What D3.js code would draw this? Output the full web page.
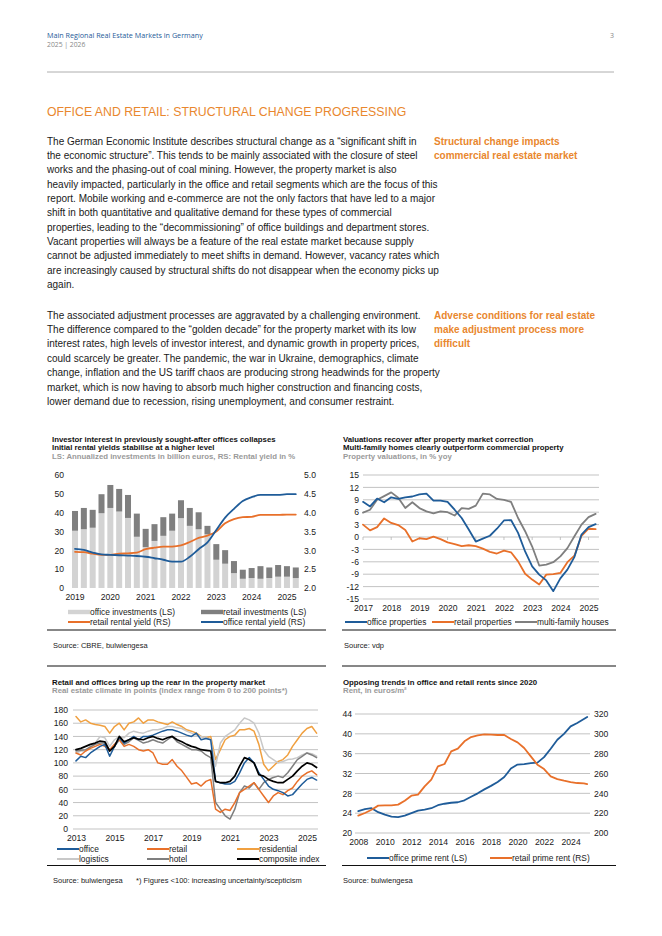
<!DOCTYPE html>
<html>
<head>
<meta charset="utf-8">
<script src="https://cdn.jsdelivr.net/npm/d3@7"></script>
<style>
  body { margin: 0; background: #fff; }
  svg { display: block; font-family: "Liberation Sans", Arial, sans-serif; }
</style>
</head>
<body>
<svg id="page" width="662" height="936"></svg>
<script>
// ---------- data ----------
// chart 1: quarterly investments (bn EUR) and rental yields (%)
var c1Quarters = ["2019Q1","2019Q2","2019Q3","2019Q4","2020Q1","2020Q2","2020Q3","2020Q4",
  "2021Q1","2021Q2","2021Q3","2021Q4","2022Q1","2022Q2","2022Q3","2022Q4",
  "2023Q1","2023Q2","2023Q3","2023Q4","2024Q1","2024Q2","2024Q3","2024Q4","2025Q1","2025Q2"];
var c1OfficeInv = [30.4,31.2,32,39.7,42.5,40.6,37.2,27.2,21.7,25,27.7,30.4,37.1,33,31.2,28.5,15,12.9,7.9,4.9,5.3,4.9,5.3,6,6,5.3];
var c1RetailInv = [10.5,11.3,9.5,10.1,12.2,12,12.2,12.3,9.7,8.9,9.9,9.1,9.5,9.5,9,4.5,8.3,7.2,6.4,4.8,5.3,6.7,5.6,6.2,5.6,5.6];
var c1OfficeYield = [3.04,3.01,2.94,2.89,2.88,2.87,2.86,2.85,2.83,2.79,2.75,2.70,2.70,2.83,3.03,3.21,3.54,3.87,4.10,4.31,4.41,4.47,4.47,4.47,4.49,4.49];
var c1RetailYield = [2.96,2.95,2.91,2.88,2.88,2.91,2.92,2.94,3.03,3.07,3.10,3.10,3.13,3.22,3.33,3.39,3.50,3.72,3.83,3.88,3.89,3.94,3.94,3.94,3.95,3.95];

// chart 2: property valuations, % yoy, quarterly
var c2Dates = [2017,2017.25,2017.5,2017.75,2018,2018.25,2018.5,2018.75,2019,2019.25,2019.5,2019.75,
  2020,2020.25,2020.5,2020.75,2021,2021.25,2021.5,2021.75,2022,2022.25,2022.5,2022.75,
  2023,2023.25,2023.5,2023.75,2024,2024.25,2024.5,2024.75,2025,2025.25];
var c2Office = [8.5,7.4,9.3,8.4,9.6,9.2,9.6,9.8,10.3,10.5,8.8,8.8,8.5,6.6,4.6,1.8,-1.1,-0.4,0.3,2.0,4.0,4.1,1.0,-3.5,-7.1,-9.1,-10.5,-13.1,-10.0,-7.9,-4.8,0.6,2.4,3.1];
var c2Retail = [3.0,1.6,2.4,4.5,3.4,2.9,1.7,-1.1,-0.3,-0.5,0.1,-0.5,-1.3,-1.7,-2.2,-2.0,-2.2,-2.8,-3.6,-4.0,-3.3,-3.7,-5.9,-8.9,-10.3,-11.5,-9.1,-9.0,-8.7,-6.1,-4.5,0.3,2.0,1.9];
var c2Multi = [5.9,6.6,9.0,9.9,10.8,9.5,7.0,8.4,7.0,6.2,5.7,6.2,6.0,5.2,7.0,6.8,7.6,10.5,10.3,9.2,9.0,8.5,4.6,1.4,-2.3,-6.9,-6.7,-6.1,-4.7,-2.7,0.2,3.0,4.8,5.6];

// chart 3: real estate climate, points, quarterly
var c3Dates = [2013,2013.25,2013.5,2013.75,2014,2014.25,2014.5,2014.75,2015,2015.25,2015.5,2015.75,
  2016,2016.25,2016.5,2016.75,2017,2017.25,2017.5,2017.75,2018,2018.25,2018.5,2018.75,
  2019,2019.25,2019.5,2019.75,2020,2020.25,2020.5,2020.75,2021,2021.25,2021.5,2021.75,
  2022,2022.25,2022.5,2022.75,2023,2023.25,2023.5,2023.75,2024,2024.25,2024.5,2024.75,2025,2025.25,2025.5];
var c3Office = [103,110,108,115,120,125,128,110,125,138,130,135,140,135,140,140,142,145,148,150,150,148,145,142,140,145,135,137,135,72,70,68,68,72,85,100,108,100,85,75,65,60,58,55,50,52,60,68,75,78,74];
var c3Retail = [115,112,118,122,125,128,125,120,128,135,125,128,125,120,118,120,115,100,98,98,105,95,88,78,68,70,65,72,75,30,25,30,28,40,55,60,65,70,60,50,40,50,55,52,58,62,72,80,85,88,82];
var c3Residential = [170,162,165,160,158,157,155,145,155,160,150,160,162,168,160,165,165,162,160,158,162,158,155,150,148,145,140,138,140,105,120,135,140,142,150,150,152,148,128,98,88,95,102,105,112,125,135,145,152,155,145];
var c3Logistics = [115,118,118,125,130,140,138,125,135,140,138,145,148,146,145,148,150,150,152,155,155,153,152,148,145,142,140,138,135,95,130,140,145,150,160,168,165,160,145,120,110,105,100,102,105,106,108,112,115,114,110];
var c3Hotel = [118,119,120,124,128,130,130,118,125,135,128,132,138,134,130,132,135,132,130,135,140,132,128,124,120,120,118,112,108,40,30,20,15,30,55,65,62,70,60,70,75,78,80,78,85,95,105,110,115,112,108];
var c3Composite = [120,122,125,128,130,133,132,118,125,140,132,135,138,136,135,138,140,137,135,138,140,135,132,128,125,123,120,119,118,72,70,70,72,80,95,108,105,100,82,80,75,72,70,70,75,80,88,95,100,98,93];

// chart 4: prime rents, half-yearly
var c4Dates = [2008,2008.5,2009,2009.5,2010,2010.5,2011,2011.5,2012,2012.5,2013,2013.5,2014,2014.5,2015,2015.5,
  2016,2016.5,2017,2017.5,2018,2018.5,2019,2019.5,2020,2020.5,2021,2021.5,2022,2022.5,2023,2023.5,2024,2024.5,2025,2025.25];
var c4Office = [24.4,24.8,25.0,24.2,23.7,23.3,23.2,23.5,24.0,24.5,24.7,25.0,25.6,25.9,26.1,26.2,26.6,27.3,28.0,28.8,29.5,30.3,31.3,33.0,33.8,33.9,34.1,34.2,35.3,37.0,38.8,40.0,41.5,42.2,43.0,43.4];
var c4Retail = [217.5,220.2,223.5,227.6,227.9,227.9,228.6,232.6,237.6,238.7,247,253.8,267.2,269.6,282.3,285,292.4,296.8,298.5,299.5,299.2,298.8,298.8,294.8,291.4,285.7,277.3,268.9,264.5,257.1,254.4,252.8,251.4,250.4,250.1,249.4];

// ---------- page ----------
var BLUE = "#1f5c99", ORANGE = "#e8702a", LORANGE = "#f0a040",
    LGREY = "#d3d3d3", DGREY = "#7f7f7f", GRID = "#b4b4b4", TXT = "#1a1a1a";

var svg = d3.select("#page");
svg.append("rect").attr("width", 662).attr("height", 936).attr("fill", "#fff");

function text(x, y, s, size, opts) {
  opts = opts || {};
  return svg.append("text")
    .attr("x", x).attr("y", y)
    .attr("font-size", size)
    .attr("font-weight", opts.bold ? "bold" : null)
    .attr("fill", opts.fill || TXT)
    .attr("text-anchor", opts.anchor || "start")
    .attr("font-family", opts.family || null)
    .text(s);
}

function hline(x1, x2, y, color, w) {
  svg.append("line").attr("x1", x1).attr("x2", x2).attr("y1", y).attr("y2", y)
    .attr("stroke", color).attr("stroke-width", w);
}

// plain hyphen for negatives, like the original
var plain = function(d) { return String(d); };

// header
text(47, 37.5, "Main Regional Real Estate Markets in Germany", 7.2, {fill: BLUE, family: "Open Sans"});
text(47, 46.5, "2025 | 2026", 6.8, {fill: "#888", family: "Open Sans"});
text(614, 37.5, "3", 7, {fill: "#888", anchor: "end", family: "Open Sans"});
hline(47, 614, 72, "#999", 0.8);

text(47, 115.5, "OFFICE AND RETAIL: STRUCTURAL CHANGE PROGRESSING", 12.3, {fill: "#e9872e"});

var para1 = [
  "The German Economic Institute describes structural change as a \u201csignificant shift in",
  "the economic structure\u201d. This tends to be mainly associated with the closure of steel",
  "works and the phasing-out of coal mining. However, the property market is also",
  "heavily impacted, particularly in the office and retail segments which are the focus of this",
  "report. Mobile working and e-commerce are not the only factors that have led to a major",
  "shift in both quantitative and qualitative demand for these types of commercial",
  "properties, leading to the \u201cdecommissioning\u201d of office buildings and department stores.",
  "Vacant properties will always be a feature of the real estate market because supply",
  "cannot be adjusted immediately to meet shifts in demand. However, vacancy rates which",
  "are increasingly caused by structural shifts do not disappear when the economy picks up",
  "again."
];
var para2 = [
  "The associated adjustment processes are aggravated by a challenging environment.",
  "The difference compared to the \u201cgolden decade\u201d for the property market with its low",
  "interest rates, high levels of investor interest, and dynamic growth in property prices,",
  "could scarcely be greater. The pandemic, the war in Ukraine, demographics, climate",
  "change, inflation and the US tariff chaos are producing strong headwinds for the property",
  "market, which is now having to absorb much higher construction and financing costs,",
  "lower demand due to recession, rising unemployment, and consumer restraint."
];
para1.forEach(function(s, i) { text(47, 144.5 + i * 14.35, s, 10); });
para2.forEach(function(s, i) { text(47, 318.5 + i * 14.4, s, 10); });

var side1 = ["Structural change impacts", "commercial real estate market"];
var side2 = ["Adverse conditions for real estate", "make adjustment process more", "difficult"];
side1.forEach(function(s, i) { text(434, 144.5 + i * 14.35, s, 10, {bold: true, fill: "#e9872e"}); });
side2.forEach(function(s, i) { text(434, 318.5 + i * 14.4, s, 10, {bold: true, fill: "#e9872e"}); });

// chart helpers
function titles(x, y, lines, greyFrom) {
  lines.forEach(function(s, i) {
    text(x, y + i * 8.7, s, 7.8, {bold: true, fill: i >= greyFrom ? "#9a9a9a" : "#111"});
  });
}
function styleAxis(g, size) {
  g.select(".domain").remove();
  g.selectAll(".tick line").remove();
  g.selectAll("text").attr("font-size", size).attr("fill", TXT)
    .attr("font-family", "Liberation Sans, Arial, sans-serif");
}
function legendLine(x, y, color, label, w) {
  svg.append("line").attr("x1", x).attr("x2", x + 22).attr("y1", y).attr("y2", y)
    .attr("stroke", color).attr("stroke-width", w || 2);
  text(x + 22, y + 3, label, 8.4);
}
function legendRect(x, y, color, label) {
  svg.append("rect").attr("x", x).attr("y", y - 2.2).attr("width", 22).attr("height", 4.4).attr("fill", color);
  text(x + 22, y + 3, label, 8.4);
}
function gridLines(y, ticks, x1, x2) {
  svg.append("g").selectAll("line").data(ticks).join("line")
    .attr("x1", x1).attr("x2", x2)
    .attr("y1", function(d) { return y(d); }).attr("y2", function(d) { return y(d); })
    .attr("stroke", GRID).attr("stroke-width", 0.8);
}
function drawLine(xs, ys, x, y, color, w, curve) {
  var data = xs.map(function(d, i) { return [d, ys[i]]; });
  svg.append("path").datum(data)
    .attr("fill", "none").attr("stroke", color).attr("stroke-width", w)
    .attr("stroke-linejoin", "round").attr("stroke-linecap", "round")
    .attr("d", d3.line().x(function(d) { return x(d[0]); }).y(function(d) { return y(d[1]); })
      .curve(curve || d3.curveLinear));
}

// ---------- chart 1 ----------
titles(52, 441.5, ["Investor interest in previously sought-after offices collapses",
  "Initial rental yields stabilise at a higher level",
  "LS: Annualized investments in billion euros, RS: Rental yield in %"], 2);

var x1 = d3.scaleBand().domain(c1Quarters).range([70.6, 300.2]).paddingInner(0.32).paddingOuter(0.16);
var y1 = d3.scaleLinear().domain([0, 60]).range([588, 475]);
var y1r = d3.scaleLinear().domain([2, 5]).range([588, 475]);

var stackData = c1Quarters.map(function(q, i) { return {q: q, office: c1OfficeInv[i], retail: c1RetailInv[i]}; });
var stack = d3.stack().keys(["office", "retail"])(stackData);
svg.append("g").selectAll("g").data(stack).join("g")
  .attr("fill", function(d) { return d.key === "office" ? LGREY : DGREY; })
  .selectAll("rect").data(function(d) { return d; }).join("rect")
  .attr("x", function(d) { return x1(d.data.q); })
  .attr("width", x1.bandwidth())
  .attr("y", function(d) { return y1(d[1]); })
  .attr("height", function(d) { return y1(d[0]) - y1(d[1]); });

var xc1 = function(q) { return x1(q) + x1.bandwidth() / 2; };
drawLine(c1Quarters, c1RetailYield, xc1, y1r, ORANGE, 1.8, d3.curveMonotoneX);
drawLine(c1Quarters, c1OfficeYield, xc1, y1r, BLUE, 1.8, d3.curveMonotoneX);

styleAxis(svg.append("g").attr("transform", "translate(64,0)")
  .call(d3.axisLeft(y1).tickValues(d3.range(0, 61, 10)).tickSize(0).tickPadding(0)), 8.6);
styleAxis(svg.append("g").attr("transform", "translate(304,0)")
  .call(d3.axisRight(y1r).tickValues(d3.range(2, 5.01, 0.5)).tickFormat(d3.format(".1f")).tickSize(0).tickPadding(0)), 8.6);
styleAxis(svg.append("g").attr("transform", "translate(0,590)")
  .call(d3.axisBottom(x1).tickValues(c1Quarters.filter(function(q) { return /Q1$/.test(q); }))
    .tickFormat(function(q) { return q.slice(0, 4); }).tickSize(0).tickPadding(4)), 8.6);

legendRect(68, 612, LGREY, "office investments (LS)");
legendRect(201, 612, DGREY, "retail investments (LS)");
legendLine(68, 622, ORANGE, "retail rental yield (RS)");
legendLine(201, 622, BLUE, "office rental yield (RS)");
hline(47, 326, 630, "#111", 1.2);
text(53, 648, "Source: CBRE, bulwiengesa", 7.5);
hline(47, 326, 666, "#111", 1.2);

// ---------- chart 2 ----------
titles(343, 441.5, ["Valuations recover after property market correction",
  "Multi-family homes clearly outperform commercial property",
  "Property valuations, in % yoy"], 2);

var x2 = d3.scaleLinear().domain([2017, 2025.25]).range([363, 595.6]);
var y2 = d3.scaleLinear().domain([-15, 15]).range([599, 475]);
var y2ticks = d3.range(-15, 16, 3);
gridLines(y2, y2ticks, 363, 599);
svg.append("g").selectAll("line").data(d3.range(2017, 2026)).join("line")
  .attr("x1", function(d) { return x2(d); }).attr("x2", function(d) { return x2(d); })
  .attr("y1", y2(0)).attr("y2", y2(0) + 3).attr("stroke", GRID).attr("stroke-width", 0.8);

drawLine(c2Dates, c2Multi, x2, y2, DGREY, 1.8);
drawLine(c2Dates, c2Retail, x2, y2, ORANGE, 1.8);
drawLine(c2Dates, c2Office, x2, y2, BLUE, 1.8);

styleAxis(svg.append("g").attr("transform", "translate(359,0)")
  .call(d3.axisLeft(y2).tickValues(y2ticks).tickFormat(plain).tickSize(0).tickPadding(0)), 8.6);
styleAxis(svg.append("g").attr("transform", "translate(0,601)")
  .call(d3.axisBottom(x2).tickValues(d3.range(2017, 2026)).tickFormat(plain).tickSize(0).tickPadding(4)), 8.6);

legendLine(345, 622, BLUE, "office properties");
legendLine(432, 622, ORANGE, "retail properties");
legendLine(515, 622, DGREY, "multi-family houses");
hline(342, 616, 630, "#111", 1.2);
text(344, 648, "Source: vdp", 7.5);
hline(342, 616, 666, "#111", 1.2);

// ---------- chart 3 ----------
titles(52, 684.5, ["Retail and offices bring up the rear in the property market",
  "Real estate climate in points (index range from 0 to 200 points*)"], 1);

var x3 = d3.scaleLinear().domain([2013, 2025.5]).range([76, 316.6]);
var y3 = d3.scaleLinear().domain([0, 180]).range([829, 710]);
var y3ticks = d3.range(0, 181, 20);
gridLines(y3, y3ticks, 73, 318);

drawLine(c3Dates, c3Residential, x3, y3, LORANGE, 1.5);
drawLine(c3Dates, c3Logistics, x3, y3, "#c8c8c8", 1.5);
drawLine(c3Dates, c3Hotel, x3, y3, DGREY, 1.5);
drawLine(c3Dates, c3Retail, x3, y3, ORANGE, 1.5);
drawLine(c3Dates, c3Office, x3, y3, BLUE, 1.5);
drawLine(c3Dates, c3Composite, x3, y3, "#000", 1.7);

styleAxis(svg.append("g").attr("transform", "translate(68,0)")
  .call(d3.axisLeft(y3).tickValues(y3ticks).tickSize(0).tickPadding(0)), 8.6);
styleAxis(svg.append("g").attr("transform", "translate(0,831)")
  .call(d3.axisBottom(x3).tickValues(d3.range(2013, 2026, 2)).tickFormat(plain).tickSize(0).tickPadding(4)), 8.6);

legendLine(57, 849, BLUE, "office");
legendLine(147, 849, ORANGE, "retail");
legendLine(237, 849, LORANGE, "residential");
legendLine(57, 859, "#c8c8c8", "logistics");
legendLine(147, 859, DGREY, "hotel");
legendLine(237, 859, "#000", "composite index");
hline(47, 326, 865.5, "#111", 1.2);
text(53, 883, "Source: bulwiengesa", 7.5);
text(136, 883, "*) Figures <100: increasing uncertainty/scepticism", 7.5);

// ---------- chart 4 ----------
titles(343, 684.5, ["Opposing trends in office and retail rents since 2020",
  "Rent, in euros/m\u00b2"], 1);

var x4 = d3.scaleLinear().domain([2008, 2025.25]).range([358.3, 587.2]);
var y4 = d3.scaleLinear().domain([20, 44]).range([833, 714]);
var y4r = d3.scaleLinear().domain([200, 320]).range([833, 714]);
var y4ticks = d3.range(20, 45, 4);
gridLines(y4, y4ticks, 355, 590);

drawLine(c4Dates, c4Office, x4, y4, BLUE, 1.8);
drawLine(c4Dates, c4Retail, x4, y4r, ORANGE, 1.8);

styleAxis(svg.append("g").attr("transform", "translate(352,0)")
  .call(d3.axisLeft(y4).tickValues(y4ticks).tickSize(0).tickPadding(0)), 8.6);
styleAxis(svg.append("g").attr("transform", "translate(594,0)")
  .call(d3.axisRight(y4r).tickValues(d3.range(200, 321, 20)).tickSize(0).tickPadding(0)), 8.6);
styleAxis(svg.append("g").attr("transform", "translate(0,835)")
  .call(d3.axisBottom(x4).tickValues(d3.range(2008, 2025, 2)).tickFormat(plain).tickSize(0).tickPadding(4)), 8.6);

legendLine(367, 858, BLUE, "office prime rent (LS)");
legendLine(490, 858, ORANGE, "retail prime rent (RS)");
hline(342, 616, 865.5, "#111", 1.2);
text(343, 883, "Source: bulwiengesa", 7.5);
</script>
</body>
</html>
